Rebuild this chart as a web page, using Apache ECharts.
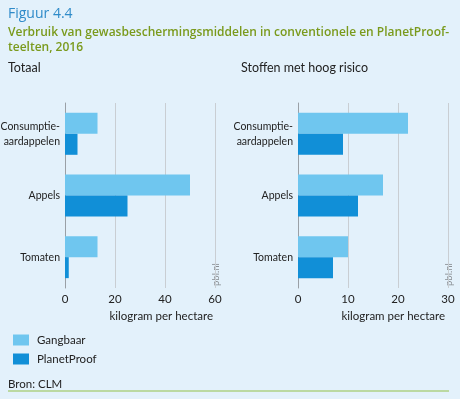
<!DOCTYPE html>
<html>
<head>
<meta charset="utf-8">
<script src="https://cdn.jsdelivr.net/npm/echarts@6/dist/echarts.min.js"></script>
<style>
  html, body { margin: 0; padding: 0; background: #e3f1fb; }
  #chart { width: 460px; height: 399px; }
</style>
</head>
<body>
<div id="chart"></div>
<script>
var categories = ['Consumptie-\naardappelen', 'Appels', 'Tomaten'];
var totaalGangbaar = [13, 50, 13];
var totaalPlanetProof = [5, 25, 1.5];
var risicoGangbaar = [22, 17, 10];
var risicoPlanetProof = [9, 12, 7];
var totaalTicks = [0, 60, 20];
var risicoTicks = [0, 30, 10];

var font = '"Open Sans", "Noto Sans", sans-serif';
var labelFont = 'Lato, "Open Sans", sans-serif';
var lightBlue = '#6fc6ef';
var darkBlue = '#118fd7';

var chart = echarts.init(document.getElementById('chart'));

function xAx(idx, ticks) {
    return {
        type: 'value', gridIndex: idx,
        min: ticks[0], max: ticks[1], interval: ticks[2],
        axisLine: { show: false },
        axisTick: { show: false },
        axisLabel: { color: '#222', fontSize: 11.5, fontFamily: labelFont, margin: 5 },
        splitLine: { lineStyle: { color: '#c9ced3', width: 1 } }
    };
}
function yAx(idx) {
    return {
        type: 'category', gridIndex: idx, data: categories, inverse: true,
        axisLine: { lineStyle: { color: '#9aa0a6', width: 1 } },
        axisTick: { show: false },
        axisLabel: { color: '#222', fontSize: 10.5, fontFamily: labelFont, margin: 5, lineHeight: 15, align: 'right' }
    };
}
function bar(name, idx, data, color) {
    return {
        name: name, type: 'bar', xAxisIndex: idx, yAxisIndex: idx,
        data: data, barGap: '0%', barCategoryGap: '32%',
        itemStyle: { color: color }, silent: true
    };
}

chart.setOption({
    animation: false,
    backgroundColor: '#e3f1fb',
    textStyle: { fontFamily: labelFont },
    grid: [
        { left: 65, right: 245, top: 103, bottom: 111, outerBoundsMode: 'none', containLabel: false },
        { left: 298, right: 12, top: 103, bottom: 111, outerBoundsMode: 'none', containLabel: false }
    ],
    xAxis: [xAx(0, totaalTicks), xAx(1, risicoTicks)],
    yAxis: [yAx(0), yAx(1)],
    legend: {
        orient: 'vertical', left: 8, top: 329,
        itemWidth: 16, itemHeight: 11, itemGap: 7,
        icon: 'rect', selectedMode: false,
        textStyle: { color: '#222', fontSize: 11.5, fontFamily: labelFont, padding: [0, 0, 0, 3] },
        data: ['Gangbaar', 'PlanetProof']
    },
    series: [
        bar('Gangbaar', 0, totaalGangbaar, lightBlue),
        bar('PlanetProof', 0, totaalPlanetProof, darkBlue),
        bar('Gangbaar', 1, risicoGangbaar, lightBlue),
        bar('PlanetProof', 1, risicoPlanetProof, darkBlue)
    ],
    graphic: [
        { type: 'text', left: 8, top: 7, style: { text: 'Figuur 4.4', fill: '#2f8bc9', font: '14px ' + font } },
        { type: 'text', left: 8, top: 25, style: { text: 'Verbruik van gewasbeschermingsmiddelen in conventionele en PlanetProof-\nteelten, 2016', fill: '#7a9a1c', font: '600 12px ' + font, lineHeight: 15 } },
        { type: 'text', left: 8, top: 61, style: { text: 'Totaal', fill: '#222', font: '12.5px ' + labelFont } },
        { type: 'text', left: 241, top: 61, style: { text: 'Stoffen met hoog risico', fill: '#222', font: '12.5px ' + labelFont } },
        { type: 'text', right: 247, top: 310, style: { text: 'kilogram per hectare', fill: '#222', font: '11.5px ' + labelFont } },
        { type: 'text', right: 15, top: 310, style: { text: 'kilogram per hectare', fill: '#222', font: '11.5px ' + labelFont } },
        { type: 'text', x: 211, y: 286, rotation: Math.PI / 2, style: { text: 'pbl.nl', fill: '#8a8f94', font: '9.5px ' + labelFont } },
        { type: 'text', x: 444, y: 286, rotation: Math.PI / 2, style: { text: 'pbl.nl', fill: '#8a8f94', font: '9.5px ' + labelFont } },
        { type: 'text', left: 8, top: 378, style: { text: 'Bron: CLM', fill: '#222', font: '11.5px ' + labelFont } },
        { type: 'line', shape: { x1: 8, y1: 391, x2: 449, y2: 391 }, style: { stroke: '#94c24a', lineWidth: 1.2 } }
    ]
});
</script>
</body>
</html>
